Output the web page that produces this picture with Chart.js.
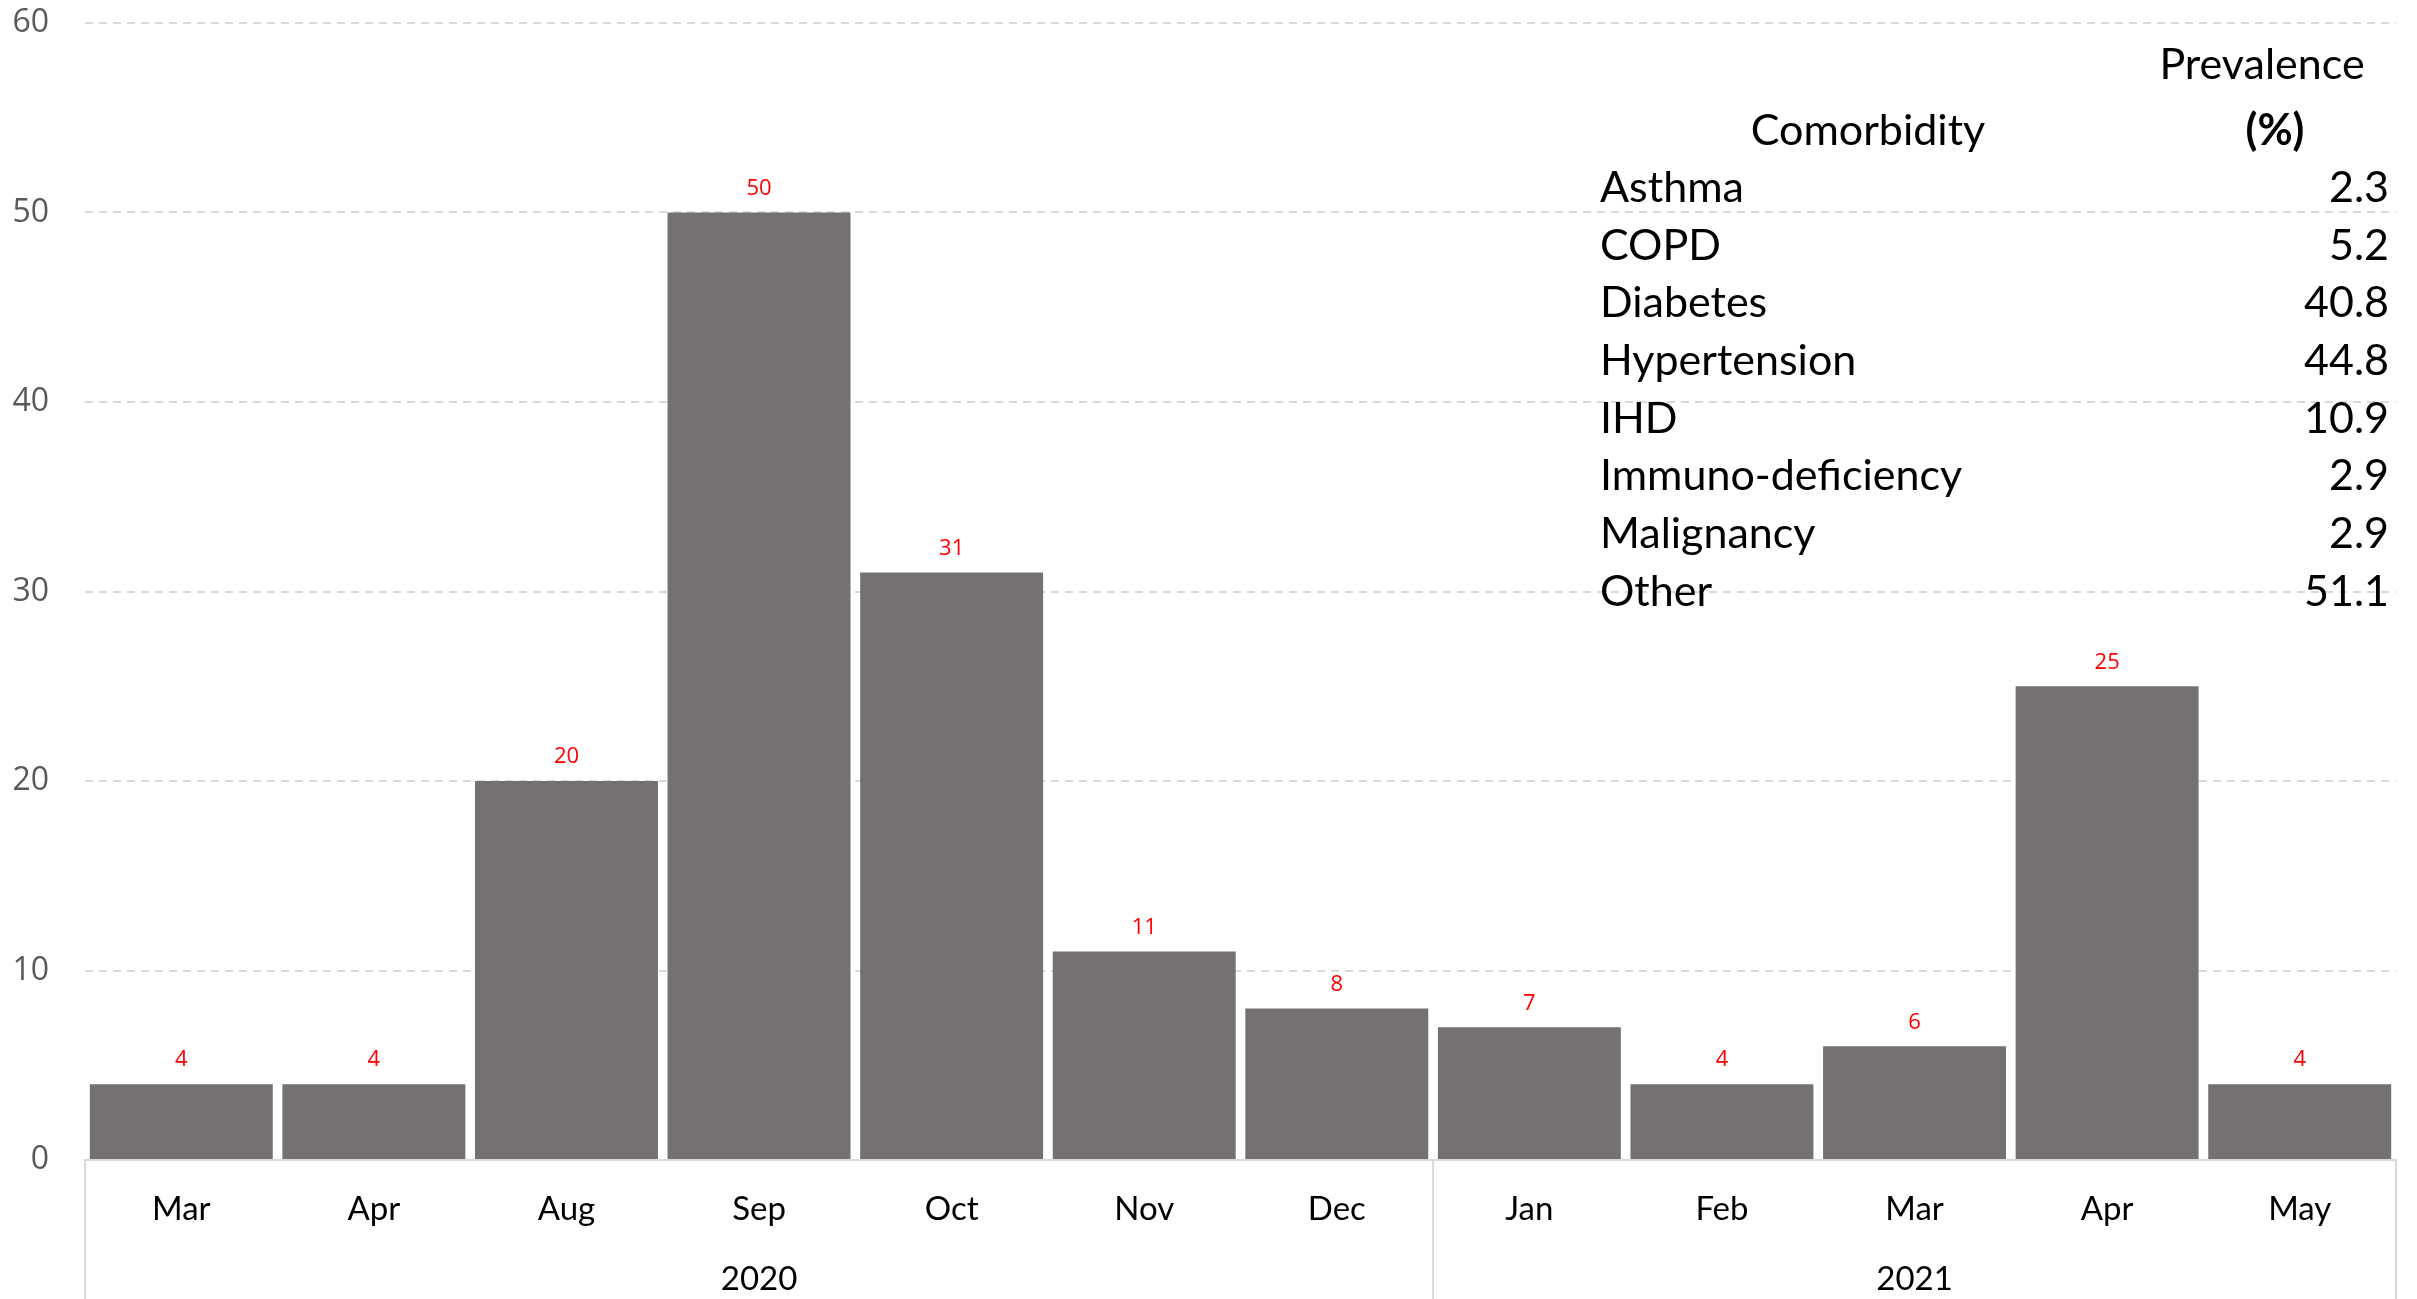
<!DOCTYPE html>
<html>
<head>
<meta charset="utf-8">
<script src="https://cdn.jsdelivr.net/npm/chart.js@4/dist/chart.umd.min.js"></script>
<style>
  html, body { margin: 0; padding: 0; background: #fff; }
  #wrap { width: 2417px; height: 1299px; }
</style>
</head>
<body>
<div id="wrap"><canvas id="chart" width="2417" height="1299"></canvas></div>
<script>
const months = ['Mar','Apr','Aug','Sep','Oct','Nov','Dec','Jan','Feb','Mar','Apr','May'];
const years  = ['2020','2020','2020','2020','2020','2020','2020','2021','2021','2021','2021','2021'];
const cases  = [4, 4, 20, 50, 31, 11, 8, 7, 4, 6, 25, 4];

const comorbidities = ['Asthma','COPD','Diabetes','Hypertension','IHD','Immuno-deficiency','Malignancy','Other'];
const prevalence    = ['2.3','5.2','40.8','44.8','10.9','2.9','2.9','51.1'];

const yMax = 60;
const yStep = 10;

// group the months by year: [start, end] index ranges
const groups = [];
years.forEach((y, i) => {
    const last = groups[groups.length - 1];
    if (last && last.year === y) last.end = i;
    else groups.push({ year: y, start: i, end: i });
});

// year goes as a second line under the middle month of its group
const labels = months.map((m, i) => {
    const g = groups.find(g => i >= g.start && i <= g.end);
    const mid = Math.floor((g.start + g.end) / 2);
    return [m, i === mid ? g.year : ''];
});

// red value labels above the bars
const barValues = {
    id: 'barValues',
    afterDatasetsDraw(chart) {
        const ctx = chart.ctx;
        ctx.save();
        ctx.fillStyle = '#ff0000';
        ctx.font = '22px "Open Sans"';
        ctx.textAlign = 'center';
        ctx.textBaseline = 'middle';
        chart.getDatasetMeta(0).data.forEach((bar, i) => {
            ctx.fillText(String(cases[i]), bar.x, bar.y - 24);
        });
        ctx.restore();
    }
};

// vertical separators between the year groups below the axis
const yearSeparators = {
    id: 'yearSeparators',
    afterDraw(chart) {
        const x = chart.scales.x;
        const ctx = chart.ctx;
        const edges = [];
        groups.forEach(g => {
            edges.push(g.start === 0 ? x.left : (x.getPixelForValue(g.start - 1) + x.getPixelForValue(g.start)) / 2);
        });
        edges.push(x.right);
        ctx.save();
        ctx.strokeStyle = '#d9d9d9';
        ctx.lineWidth = 2;
        edges.forEach(px => {
            ctx.beginPath();
            ctx.moveTo(px, x.top);
            ctx.lineTo(px, chart.height);
            ctx.stroke();
        });
        ctx.restore();
    }
};

// comorbidity table in the top right corner
const comorbidityTable = {
    id: 'comorbidityTable',
    afterDraw(chart) {
        const ctx = chart.ctx;
        ctx.save();
        ctx.fillStyle = '#000';
        ctx.textBaseline = 'middle';
        ctx.font = '43px Lato';
        ctx.textAlign = 'center';
        ctx.fillText('Prevalence', 2262, 65);
        ctx.fillText('Comorbidity', 1868, 131);
        ctx.font = 'bold 43px Lato';
        ctx.fillText('(%)', 2275, 131);
        ctx.font = '43px Lato';
        comorbidities.forEach((name, i) => {
            const y = 188 + i * 57.7;
            ctx.textAlign = 'left';
            ctx.fillText(name, 1600, y);
            ctx.textAlign = 'right';
            ctx.fillText(prevalence[i], 2389, y);
        });
        ctx.restore();
    }
};

new Chart(document.getElementById('chart'), {
    type: 'bar',
    data: {
        labels: labels,
        datasets: [{
            data: cases,
            backgroundColor: '#767171',
            barPercentage: 0.95,
            categoryPercentage: 1
        }]
    },
    options: {
        responsive: false,
        animation: false,
        layout: { padding: { top: 23, right: 21, left: 0, bottom: 0 } },
        plugins: {
            legend: { display: false },
            tooltip: { enabled: false }
        },
        scales: {
            x: {
                grid: { display: false, drawTicks: false },
                border: { display: true, color: '#d9d9d9', width: 2 },
                ticks: {
                    color: '#000',
                    padding: 14,
                    maxRotation: 0,
                    autoSkip: false,
                    font: { family: 'Lato', size: 33, lineHeight: 70 / 33 }
                },
                afterFit: s => { s.height = 139; s.paddingLeft = 0; s.paddingRight = 0; }
            },
            y: {
                min: 0,
                max: yMax,
                grid: {
                    drawTicks: false,
                    lineWidth: 2,
                    color: c => (c.tick && c.tick.value === 0) ? 'rgba(0,0,0,0)' : '#d9d9d9'
                },
                border: { display: false, dash: [8, 6] },
                ticks: {
                    stepSize: yStep,
                    padding: 36,
                    color: '#595959',
                    font: { family: 'Open Sans', size: 32 }
                },
                afterFit: s => { s.width = 85; s.paddingTop = 0; s.paddingBottom = 0; }
            }
        }
    },
    plugins: [barValues, yearSeparators, comorbidityTable]
});
</script>
</body>
</html>
